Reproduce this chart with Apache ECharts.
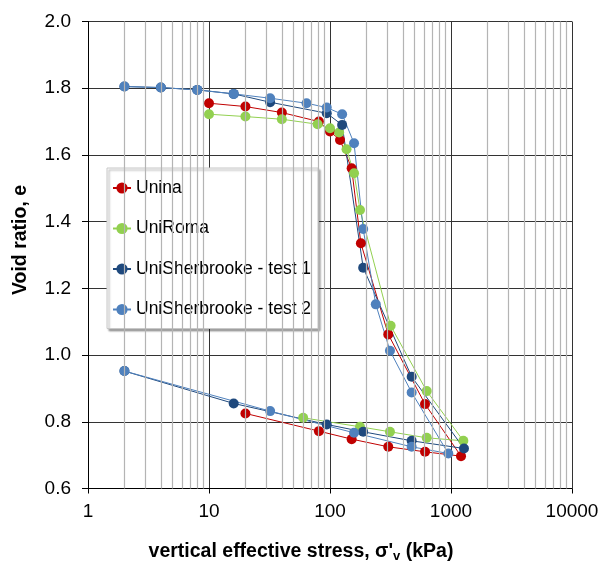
<!DOCTYPE html>
<html>
<head>
<meta charset="utf-8">
<script src="https://cdn.jsdelivr.net/npm/echarts@6/dist/echarts.min.js"></script>
<style>
  html, body { margin: 0; padding: 0; background: #fff; }
  #chart { width: 603px; height: 561px; }
</style>
</head>
<body>
<div id="chart"></div>
<script>
// loading path then unloading path, stress in kPa, void ratio e
var uninaStress = [10, 20, 40, 81, 100, 121, 151, 180, 303, 610, 1210, 610, 303, 151, 81, 20];
var uninaVoid   = [1.755, 1.745, 1.727, 1.700, 1.670, 1.645, 1.560, 1.335, 1.062, 0.853, 0.697, 0.710, 0.725, 0.748, 0.772, 0.825];

var romaStress = [10, 20, 40, 79, 100, 119, 137, 158, 177, 317, 630, 1265, 630, 313, 177, 60];
var romaVoid   = [1.722, 1.715, 1.707, 1.692, 1.680, 1.667, 1.617, 1.545, 1.435, 1.088, 0.892, 0.743, 0.752, 0.770, 0.785, 0.812];

var sher1Stress = [2, 4, 8, 16, 32, 94, 126, 188, 473, 1280, 473, 188, 94, 16, 2];
var sher1Void   = [1.805, 1.802, 1.795, 1.783, 1.758, 1.725, 1.690, 1.262, 0.935, 0.720, 0.743, 0.770, 0.792, 0.855, 0.952];

var sher2Stress = [2, 4, 8, 16, 32, 64, 94, 126, 158, 188, 239, 313, 473, 950, 473, 158, 32, 2];
var sher2Void   = [1.805, 1.802, 1.795, 1.783, 1.770, 1.755, 1.742, 1.722, 1.635, 1.378, 1.152, 1.013, 0.888, 0.705, 0.725, 0.767, 0.832, 0.952];

var xTicks = [1, 10, 100, 1000, 10000];
var minorX = [];
for (var d = 0; d < xTicks.length - 1; d++) {
    for (var k = 2; k <= 9; k++) minorX.push(k * xTicks[d]);
}

function pairs(xs, ys) {
    var out = [];
    for (var i = 0; i < xs.length; i++) out.push([xs[i], ys[i]]);
    return out;
}

var chart = echarts.init(document.getElementById('chart'));
var font = 'Liberation Sans, Arial, sans-serif';

function mkSeries(name, color, xs, ys) {
    return {
        name: name,
        type: 'line',
        data: pairs(xs, ys),
        symbol: 'circle',
        symbolSize: 10,
        itemStyle: { color: color },
        lineStyle: { color: color, width: 1 },
        z: 3,
        animation: false
    };
}

chart.setOption({
    animation: false,
    textStyle: { fontFamily: font },
    grid: { left: 88, top: 21.5, width: 484, height: 467, outerBoundsMode: 'none', containLabel: false },
    legend: {
        orient: 'vertical',
        left: 107,
        top: 168,
        padding: [10, 7, 9, 5],
        itemGap: 20.5,
        itemWidth: 18,
        itemHeight: 14,
        backgroundColor: '#fff',
        borderColor: '#c8c8c8',
        borderWidth: 1,
        shadowColor: 'rgba(0,0,0,0.35)',
        shadowBlur: 2,
        shadowOffsetX: 2,
        shadowOffsetY: 2,
        textStyle: { fontFamily: font, fontSize: 17.5, lineHeight: 20, color: '#000' },
        data: ['Unina', 'UniRoma', 'UniSherbrooke - test 1', 'UniSherbrooke - test 2']
    },
    xAxis: {
        type: 'log',
        logBase: 10,
        min: 1,
        max: 10000,
        name: '{b|vertical effective stress, σ\'}{s|v}{b| (kPa)}',
        nameLocation: 'middle',
        nameGap: 52,
        nameTextStyle: {
            padding: [0, 58, 0, 0],
            rich: {
                b: { fontFamily: font, fontSize: 19.5, fontWeight: 'bold', color: '#000' },
                s: { fontFamily: font, fontSize: 13, fontWeight: 'bold', color: '#000', verticalAlign: 'bottom', padding: [9, 0, 0, 0] }
            }
        },
        axisLine: { lineStyle: { color: '#000', width: 1 } },
        axisTick: { show: true, length: 5, lineStyle: { color: '#000' } },
        axisLabel: {
            fontFamily: font, fontSize: 19, color: '#000', margin: 14,
            formatter: function (v) { return String(Math.round(v)); }
        },
        splitLine: { show: true, lineStyle: { color: '#333', width: 1 } }
    },
    yAxis: {
        type: 'value',
        min: 0.6,
        max: 2.0,
        interval: 0.2,
        name: 'Void ratio, e',
        nameLocation: 'middle',
        nameGap: 57,
        nameTextStyle: { fontFamily: font, fontSize: 19.5, fontWeight: 'bold', color: '#000', padding: [0, 0, 0, 30] },
        axisLine: { show: true, lineStyle: { color: '#000', width: 1 } },
        axisTick: { show: true, length: 6, lineStyle: { color: '#000' } },
        axisLabel: {
            fontFamily: font, fontSize: 19, color: '#000', margin: 17,
            formatter: function (v) { return v.toFixed(1); }
        },
        splitLine: { show: true, lineStyle: { color: '#333', width: 1 } }
    },
    series: [
        {
            name: 'minor grid',
            type: 'line',
            data: [],
            z: -1,
            silent: true,
            markLine: {
                silent: true,
                symbol: 'none',
                label: { show: false },
                lineStyle: { color: '#b4b4b4', type: 'solid', width: 1.2 },
                data: minorX.map(function (v) { return { xAxis: v }; }),
                animation: false
            }
        },
        mkSeries('Unina', '#C00000', uninaStress, uninaVoid),
        mkSeries('UniRoma', '#92D050', romaStress, romaVoid),
        mkSeries('UniSherbrooke - test 1', '#1F497D', sher1Stress, sher1Void),
        mkSeries('UniSherbrooke - test 2', '#4F81BD', sher2Stress, sher2Void)
    ]
});
</script>
</body>
</html>
